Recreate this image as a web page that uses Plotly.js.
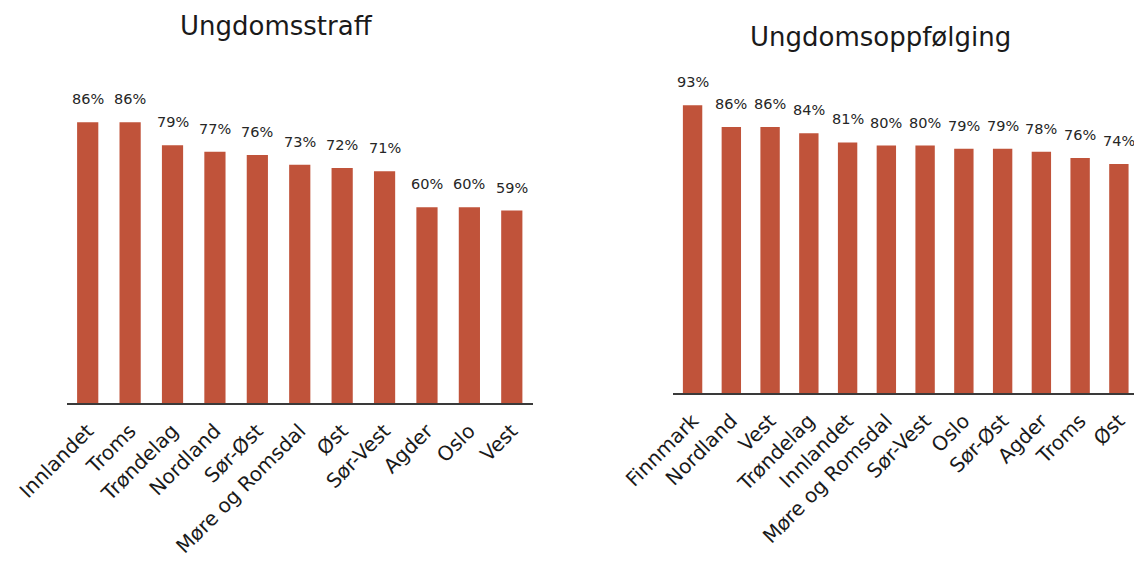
<!DOCTYPE html>
<html>
<head>
<meta charset="utf-8">
<script src="https://cdn.plot.ly/plotly-3.0.1.min.js"></script>
<style>html,body{margin:0;padding:0;background:#fff;}#chart{width:1134px;height:562px;}</style>
</head>
<body>
<div id="chart"></div>
<script>
// Ungdomsstraff
const straffRegions = ["Innlandet","Troms","Trøndelag","Nordland","Sør-Øst","Møre og Romsdal","Øst","Sør-Vest","Agder","Oslo","Vest"];
const straffValues = [86,86,79,77,76,73,72,71,60,60,59];
// Ungdomsoppfølging
const oppfRegions = ["Finnmark","Nordland","Vest","Trøndelag","Innlandet","Møre og Romsdal","Sør-Vest","Oslo","Sør-Øst","Agder","Troms","Øst"];
const oppfValues = [93,86,86,84,81,80,80,79,79,78,76,74];

const barColor = "#C0533A";
const font = "DejaVu Sans";
const textColor = "#262626";

const traces = [
  {type:"bar", x:straffRegions, y:straffValues, xaxis:"x", yaxis:"y",
   marker:{color:barColor, line:{width:0}}, width:0.5, hoverinfo:"none"},
  {type:"bar", x:oppfRegions, y:oppfValues, xaxis:"x2", yaxis:"y2",
   marker:{color:barColor, line:{width:0}}, width:0.5, hoverinfo:"none"}
];

const labelAnn = (xs, ys, xref, yref) => xs.map((c,i)=>({
  x:c, y:ys[i], xref:xref, yref:yref, text:ys[i]+"%", showarrow:false,
  yanchor:"bottom", yshift:13, font:{family:font, size:14.5, color:textColor}
}));

const axisX = (domain, range) => ({
  domain:domain, range:range, type:"category", showgrid:false, zeroline:false,
  showline:true, linecolor:"#3a3a3a", linewidth:2, ticks:"", tickangle:-45,
  tickfont:{family:font, size:20, color:"#1a1a1a"}, ticklabelstandoff:6, fixedrange:true
});
const axisY = (domain, range, anchor) => ({
  domain:domain, range:range, showgrid:false, zeroline:false, showline:false,
  showticklabels:false, ticks:"", anchor:anchor, fixedrange:true
});

const layout = {
  width:1134, height:562, margin:{l:0,r:0,t:0,b:0},
  paper_bgcolor:"#fff", plot_bgcolor:"#fff", showlegend:false, bargap:0.5,
  xaxis: axisX([66.5/1134, 533/1134], [-0.5, 10.5]),
  yaxis: axisY([(562-403.3)/562, (562-76.6)/562], [0,100], "x"),
  xaxis2: axisX([673.2/1134, 1], [-0.5, 11.39]),
  yaxis2: axisY([(562-393.3)/562, (562-83.6)/562], [0,100], "x2"),
  annotations: [
    {text:"Ungdomsstraff", xref:"paper", yref:"paper", x:276/1134, y:(562-26)/562,
     xanchor:"center", yanchor:"middle", showarrow:false, font:{family:font, size:26, color:"#1a1a1a"}},
    {text:"Ungdomsoppfølging", xref:"paper", yref:"paper", x:880/1134, y:(562-37)/562,
     xanchor:"center", yanchor:"middle", showarrow:false, font:{family:font, size:26, color:"#1a1a1a"}}
  ].concat(labelAnn(straffRegions, straffValues, "x", "y"))
   .concat(labelAnn(oppfRegions, oppfValues, "x2", "y2"))
};
layout.xaxis.anchor = "y";
layout.xaxis2.anchor = "y2";

Plotly.newPlot("chart", traces, layout, {displayModeBar:false, staticPlot:true});
</script>
</body>
</html>
